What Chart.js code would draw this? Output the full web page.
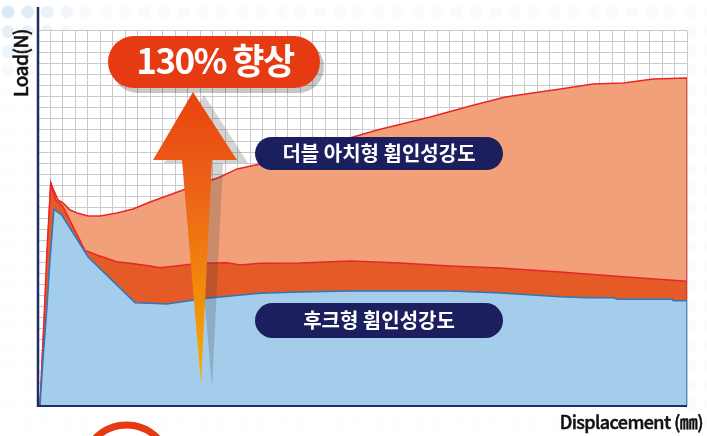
<!DOCTYPE html>
<html><head><meta charset="utf-8">
<script src="https://cdn.jsdelivr.net/npm/chart.js@4/dist/chart.umd.min.js"></script>
<style>html,body{margin:0;padding:0;background:#fff;}#wrap{width:707px;height:436px;position:relative;}</style>
</head><body><div id="wrap"><canvas id="c" width="707" height="436"></canvas></div>
<script>
// Axis extents (grid units, no tick labels shown)
const xMax = 52, yMax = 34;
const xTitle = 'Displacement (㎜)';
const yTitle = 'Load(N)';
const seriesNames = ['후크형 휨인성강도', '더블 아치형 휨인성강도'];
const badgeText = '130% 향상';

// 후크형 (blue)
const hookX = [0.16,0.40,0.72,0.96,1.28,1.90,4.03,7.78,8.98,10.32,13.52,17.80,21.0,25.01,29.02,33.03,37.04,41.85,44.01,46.10,46.42,50.83,50.90,52,52];
const hookY = [0,4.17,8.97,13.22,17.82,17.30,13.47,9.36,9.30,9.24,9.76,10.21,10.33,10.42,10.42,10.42,10.24,9.90,9.81,9.81,9.66,9.66,9.54,9.54,0];
// middle (orange)
const midX = [0.16,0.32,0.48,0.72,1.02,1.44,1.76,2.03,3.77,4.03,4.71,6.31,7.38,8.98,9.78,12.99,15.15,16.19,17.80,21.0,25.01,29.02,33.03,37.04,41.85,46.90,52,52];
const midY = [0,3.26,7.79,14.13,20.2,18.6,18.36,18.0,14.07,13.98,13.68,13.07,12.93,12.68,12.53,12.93,12.98,12.77,12.93,12.95,13.13,12.95,12.68,12.5,12.14,11.71,11.3,0];
// 더블 아치형 (salmon)
const archX = [0.16,0.32,0.56,0.80,1.02,1.60,2.00,2.57,3.13,4.01,4.97,6.33,7.62,8.98,11.62,14.59,15.95,17.80,19.40,22.61,25.25,27.18,31.43,34.63,37.44,41.85,44.49,46.90,49.30,52,52];
const archY = [0,4.17,8.97,15.04,20.2,18.66,18.39,17.75,17.48,17.21,17.21,17.48,17.84,18.48,19.57,20.74,21.47,21.92,22.55,23.46,24.37,25.0,26.18,27.17,27.99,28.71,29.17,29.26,29.62,29.71,0];

const pts = (xs, ys) => xs.map((x, i) => ({x, y: ys[i]}));

const deco = {
  id: 'deco',
  beforeDraw(chart) {
    const {ctx, chartArea: a} = chart;
    ctx.save();
    // faint dot pattern
    for (let j = 0; j < 23; j++) {
      for (let i = 0; i < 37; i++) {
        const x = 8 + i * 19.5, y = 12 + j * 19.6;
        const d = Math.hypot(x * 0.9, y * 1.1);
        let al = Math.max(0, 0.5 - d / 190);
        if (x > 690 || y < 20) al = Math.max(al, 0.07);
        al = Math.max(al, 0.025);
        ctx.beginPath();
        ctx.arc(x, y, 6.5, 0, Math.PI * 2);
        ctx.fillStyle = `rgba(170,205,232,${al})`;
        ctx.fill();
      }
    }
    ctx.fillStyle = '#fff';
    ctx.fillRect(a.left, a.top, a.right - a.left, a.bottom - a.top);
    ctx.restore();
  },
  afterDraw(chart) {
    const {ctx, chartArea: a} = chart;
    ctx.save();
    // axes
    ctx.strokeStyle = '#1d2f63';
    ctx.lineWidth = 2.5;
    ctx.beginPath(); ctx.moveTo(a.left, 7); ctx.lineTo(a.left, a.bottom + 1); ctx.stroke();
    ctx.lineWidth = 2;
    ctx.beginPath(); ctx.moveTo(a.left, a.bottom); ctx.lineTo(a.right, a.bottom); ctx.stroke();

    // arrow (shadow + gradient)
    const arrow = (dx, dy) => {
      ctx.beginPath();
      ctx.moveTo(193 + dx, 92 + dy);
      ctx.lineTo(237 + dx, 160 + dy);
      ctx.lineTo(212 + dx, 160 + dy);
      ctx.lineTo(201 + dx, 384 + dy);
      ctx.lineTo(182 + dx, 160 + dy);
      ctx.lineTo(153 + dx, 160 + dy);
      ctx.closePath();
    };
    arrow(11, 3);
    ctx.fillStyle = 'rgba(60,60,60,0.22)';
    ctx.fill();
    arrow(0, 0);
    const g = ctx.createLinearGradient(0, 92, 0, 384);
    g.addColorStop(0, '#e8430f');
    g.addColorStop(0.35, '#ec6418');
    g.addColorStop(1, '#f6b000');
    ctx.fillStyle = g;
    ctx.fill();

    // badge
    ctx.fillStyle = 'rgba(0,0,0,0.22)';
    ctx.beginPath(); ctx.roundRect(112, 41, 212, 52, 26); ctx.fill();
    ctx.fillStyle = '#e63a12';
    ctx.beginPath(); ctx.roundRect(108, 36, 212, 52, 26); ctx.fill();
    ctx.fillStyle = '#fff';
    ctx.textAlign = 'center'; ctx.textBaseline = 'middle';
    ctx.font = 'bold 35px "Noto Sans CJK KR"';
    ctx.letterSpacing = '-1.5px';
    ctx.fillText(badgeText, 215, 61);
    ctx.letterSpacing = '0px';

    // series labels
    const navy = '#1c1f5e';
    ctx.fillStyle = navy;
    ctx.beginPath(); ctx.roundRect(255, 137, 248, 33, 16.5); ctx.fill();
    ctx.beginPath(); ctx.roundRect(255, 303, 248, 35, 17.5); ctx.fill();
    ctx.fillStyle = '#fff';
    ctx.font = 'bold 20px "Noto Sans CJK KR"';
    ctx.fillText(seriesNames[1], 379, 153.5);
    ctx.fillText(seriesNames[0], 379, 320.5);

    // axis titles (medium weight emulated with a thin stroke)
    ctx.fillStyle = '#111';
    ctx.strokeStyle = '#111';
    ctx.lineWidth = 0.5;
    ctx.font = '500 18px "Noto Sans CJK KR"';
    ctx.letterSpacing = '-0.6px';
    ctx.textAlign = 'right';
    ctx.fillText(xTitle, 703, 422);
    ctx.strokeText(xTitle, 703, 422);
    ctx.save();
    ctx.translate(21, 63);
    ctx.rotate(-Math.PI / 2);
    ctx.textAlign = 'center';
    ctx.font = '500 19px "Noto Sans CJK KR"';
    ctx.fillText(yTitle, 0, 0);
    ctx.strokeText(yTitle, 0, 0);
    ctx.restore();
    ctx.letterSpacing = '0px';

    // red ring at bottom
    ctx.strokeStyle = '#e63a12';
    ctx.lineWidth = 7;
    ctx.beginPath(); ctx.arc(126.5, 468, 43, 0, Math.PI * 2); ctx.stroke();
    ctx.restore();
  }
};

new Chart(document.getElementById('c'), {
  type: 'scatter',
  data: {
    datasets: [
      {label: seriesNames[0], data: pts(hookX, hookY), showLine: true, fill: 'origin',
       backgroundColor: '#a3cdeb', borderColor: '#2a78bd', borderWidth: 1.5, pointRadius: 0},
      {label: 'mid', data: pts(midX, midY), showLine: true, fill: 'origin',
       backgroundColor: '#e45b28', borderColor: '#e8262a', borderWidth: 1.5, pointRadius: 0},
      {label: seriesNames[1], data: pts(archX, archY), showLine: true, fill: 'origin',
       backgroundColor: '#f2a07a', borderColor: '#e8262a', borderWidth: 1.5, pointRadius: 0}
    ]
  },
  options: {
    responsive: false,
    animation: false,
    layout: {padding: {left: 38, right: 20, top: 30.6, bottom: 30}},
    elements: {line: {tension: 0}},
    plugins: {legend: {display: false}, tooltip: {enabled: false}},
    scales: {
      x: {type: 'linear', min: 0, max: xMax,
          ticks: {display: false, stepSize: 1},
          grid: {color: '#c9c9c9', lineWidth: 1, drawTicks: false},
          border: {display: false}},
      y: {type: 'linear', min: 0, max: yMax,
          ticks: {display: false, stepSize: 1},
          grid: {color: '#c9c9c9', lineWidth: 1, drawTicks: false},
          border: {display: false}}
    }
  },
  plugins: [deco]
});
</script>
</body></html>
